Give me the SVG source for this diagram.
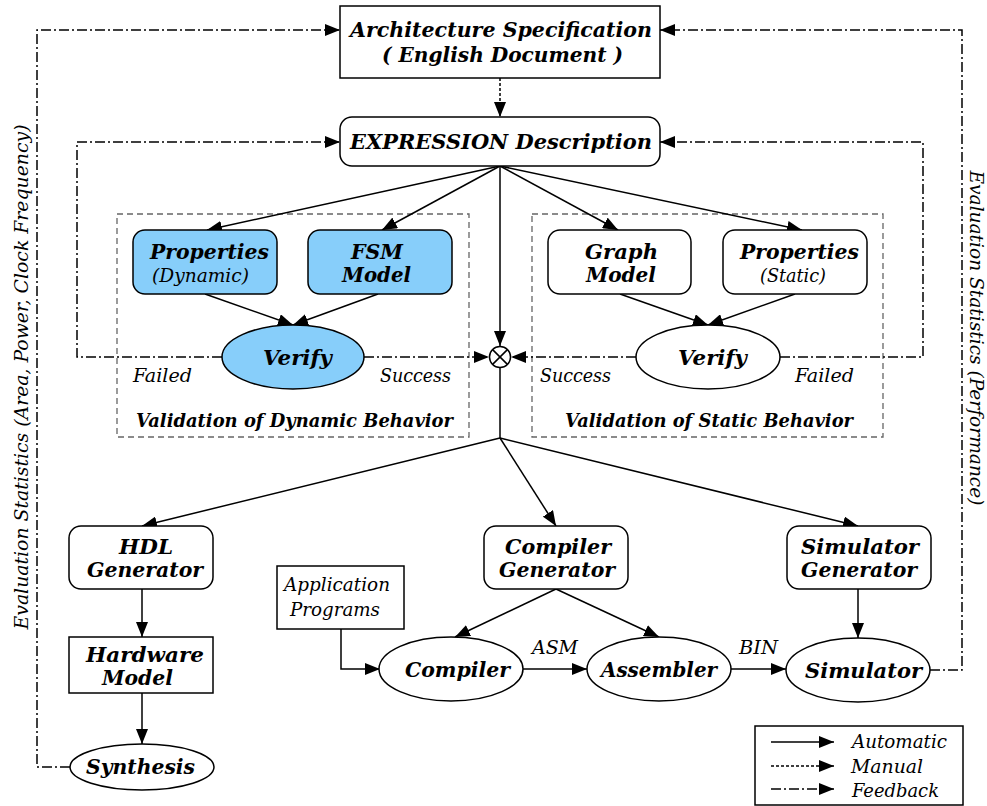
<svg xmlns="http://www.w3.org/2000/svg" width="987" height="806" viewBox="0 0 987 806">
<defs>
<marker id="ah" markerUnits="userSpaceOnUse" markerWidth="16" markerHeight="12" refX="15" refY="6" orient="auto">
<path d="M0,0 L15,6 L0,12 Z" fill="#000"/>
</marker>
<style>
.n{fill:#fff;stroke:#000;stroke-width:1.5}
.b{fill:#87cefa;stroke:#000;stroke-width:1.5}
.grp{fill:none;stroke:#666;stroke-width:1.3;stroke-dasharray:6 4}
.a{fill:none;stroke:#000;stroke-width:1.5;marker-end:url(#ah)}
.l{fill:none;stroke:#000;stroke-width:1.5}
.m{fill:none;stroke:#000;stroke-width:1.5;stroke-dasharray:3 2;marker-end:url(#ah)}
.fa{fill:none;stroke:#000;stroke-width:1.5;stroke-dasharray:10 3 2 3;marker-end:url(#ah)}
text{font-style:italic;fill:#000;text-anchor:middle}
.s{font-family:'DejaVu Serif',serif;font-weight:bold;font-size:19.5px}
.t{font-family:'DejaVu Serif',serif;font-weight:bold;font-size:20px}
.g{font-family:'DejaVu Serif',serif;font-weight:bold;font-size:18px}
.q{font-family:'DejaVu Serif Condensed','DejaVu Serif',serif;font-size:19px}
.st{text-anchor:start}
</style>
</defs>
<rect width="987" height="806" fill="#fff"/>

<g id="groups">
<rect class="grp" x="117" y="214" width="352" height="223"/>
<rect class="grp" x="532" y="214" width="351" height="223"/>
<text class="g" x="294.5" y="427" textLength="317" lengthAdjust="spacingAndGlyphs">Validation of Dynamic Behavior</text>
<text class="g" x="709" y="427" textLength="288" lengthAdjust="spacingAndGlyphs">Validation of Static Behavior</text>
</g>

<g id="connectors">
<path class="m" d="M500,78 L500,117"/>
<path class="a" d="M500,166 L207,230"/>
<path class="a" d="M500,166 L382,230"/>
<path class="a" d="M500,166 L500,346"/>
<path class="a" d="M500,166 L618,230"/>
<path class="a" d="M500,166 L802,230"/>
<path class="a" d="M205,294 L293,325"/>
<path class="a" d="M378,294 L293,325"/>
<path class="a" d="M620,294 L708,325"/>
<path class="a" d="M795,294 L708,325"/>
<path class="fa" d="M222,357 L77,357 L77,142 L340,142"/>
<path class="fa" d="M364,357 L489,357"/>
<path class="fa" d="M636,357 L511,357"/>
<path class="fa" d="M780,357 L923,357 L923,142 L660,142"/>
<path class="l" d="M500,368 L500,438"/>
<path class="a" d="M500,438 L142,526"/>
<path class="a" d="M500,438 L556,526"/>
<path class="a" d="M500,438 L858,526"/>
<path class="a" d="M142,589 L142,637"/>
<path class="a" d="M142,693 L142,744"/>
<path class="a" d="M341,629 L341,669 L380,669"/>
<path class="a" d="M556,589 L455,637"/>
<path class="a" d="M556,589 L659,637"/>
<path class="a" d="M858,589 L858,638"/>
<path class="a" d="M523,669 L587,669"/>
<path class="a" d="M731,669 L786,669"/>
<path class="fa" d="M70,767 L37,767 L37,30 L340,30"/>
<path class="fa" d="M930,670 L962,670 L962,30 L660,30"/>
<text class="q st" x="532" y="654" textLength="46" lengthAdjust="spacingAndGlyphs">ASM</text>
<text class="q st" x="739" y="654" textLength="39" lengthAdjust="spacingAndGlyphs">BIN</text>
<text class="q st" x="133" y="382" textLength="59" lengthAdjust="spacingAndGlyphs">Failed</text>
<text class="q st" x="380" y="382" textLength="71" lengthAdjust="spacingAndGlyphs">Success</text>
<text class="q st" x="540" y="382" textLength="71" lengthAdjust="spacingAndGlyphs">Success</text>
<text class="q st" x="795" y="382" textLength="59" lengthAdjust="spacingAndGlyphs">Failed</text>
</g>

<g id="arch">
<rect class="n" x="340" y="6" width="320" height="72"/>
<text class="t" x="501" y="37" textLength="302" lengthAdjust="spacingAndGlyphs">Architecture Specification</text>
<text class="t" x="502.5" y="62" textLength="241" lengthAdjust="spacingAndGlyphs">( English Document )</text>
</g>

<g id="expression">
<rect class="n" x="340" y="117" width="320" height="49" rx="12"/>
<text class="t" x="501" y="149" textLength="302" lengthAdjust="spacingAndGlyphs">EXPRESSION Description</text>
</g>

<g id="prop-dyn">
<rect class="b" x="133" y="230" width="144" height="64" rx="12"/>
<text class="s" x="209.5" y="259" textLength="119" lengthAdjust="spacingAndGlyphs">Properties</text>
<text class="q" x="200.5" y="282" textLength="97" lengthAdjust="spacingAndGlyphs">(Dynamic)</text>
</g>

<g id="fsm">
<rect class="b" x="308" y="230" width="144" height="64" rx="12"/>
<text class="s" x="377" y="259" textLength="52" lengthAdjust="spacingAndGlyphs">FSM</text>
<text class="s" x="376.5" y="282" textLength="69" lengthAdjust="spacingAndGlyphs">Model</text>
</g>

<g id="verify-dyn">
<ellipse class="b" cx="293" cy="357" rx="71" ry="32"/>
<text class="s" x="297.5" y="365" textLength="69" lengthAdjust="spacingAndGlyphs">Verify</text>
</g>

<g id="xor">
<circle cx="500" cy="357" r="10.5" fill="#fff" stroke="#000" stroke-width="1.5"/>
<path class="l" d="M492.6,349.6 L507.4,364.4 M507.4,349.6 L492.6,364.4"/>
</g>

<g id="graph">
<rect class="n" x="548" y="230" width="143" height="64" rx="12"/>
<text class="s" x="621.5" y="259" textLength="73" lengthAdjust="spacingAndGlyphs">Graph</text>
<text class="s" x="621" y="282" textLength="70" lengthAdjust="spacingAndGlyphs">Model</text>
</g>

<g id="prop-static">
<rect class="n" x="723" y="230" width="144" height="64" rx="12"/>
<text class="s" x="799.5" y="259" textLength="119" lengthAdjust="spacingAndGlyphs">Properties</text>
<text class="q" x="793" y="282" textLength="66" lengthAdjust="spacingAndGlyphs">(Static)</text>
</g>

<g id="verify-static">
<ellipse class="n" cx="708" cy="357" rx="72" ry="32"/>
<text class="s" x="712.5" y="365" textLength="69" lengthAdjust="spacingAndGlyphs">Verify</text>
</g>

<g id="hdl">
<rect class="n" x="69" y="526" width="144" height="63" rx="12"/>
<text class="s" x="146" y="554" textLength="54" lengthAdjust="spacingAndGlyphs">HDL</text>
<text class="s" x="145" y="577" textLength="116" lengthAdjust="spacingAndGlyphs">Generator</text>
</g>

<g id="hardware">
<rect class="n" x="69" y="637" width="144" height="56"/>
<text class="s" x="145" y="662" textLength="118" lengthAdjust="spacingAndGlyphs">Hardware</text>
<text class="s" x="137.5" y="685" textLength="71" lengthAdjust="spacingAndGlyphs">Model</text>
</g>

<g id="synthesis">
<ellipse class="n" cx="142" cy="767" rx="72" ry="23"/>
<text class="s" x="140.5" y="774" textLength="109" lengthAdjust="spacingAndGlyphs">Synthesis</text>
</g>

<g id="app">
<rect class="n" x="277" y="566" width="127" height="63"/>
<text class="q" x="337" y="591" textLength="106" lengthAdjust="spacingAndGlyphs">Application</text>
<text class="q" x="335" y="616" textLength="90" lengthAdjust="spacingAndGlyphs">Programs</text>
</g>

<g id="compgen">
<rect class="n" x="484" y="526" width="144" height="63" rx="12"/>
<text class="s" x="558" y="554" textLength="106" lengthAdjust="spacingAndGlyphs">Compiler</text>
<text class="s" x="557" y="577" textLength="116" lengthAdjust="spacingAndGlyphs">Generator</text>
</g>

<g id="simgen">
<rect class="n" x="787" y="526" width="144" height="63" rx="12"/>
<text class="s" x="860" y="554" textLength="118" lengthAdjust="spacingAndGlyphs">Simulator</text>
<text class="s" x="859" y="577" textLength="116" lengthAdjust="spacingAndGlyphs">Generator</text>
</g>

<g id="compiler">
<ellipse class="n" cx="451" cy="669" rx="72" ry="32"/>
<text class="s" x="457.5" y="677" textLength="105" lengthAdjust="spacingAndGlyphs">Compiler</text>
</g>

<g id="assembler">
<ellipse class="n" cx="659" cy="669" rx="72" ry="32"/>
<text class="s" x="659" y="677" textLength="116" lengthAdjust="spacingAndGlyphs">Assembler</text>
</g>

<g id="simulator">
<ellipse class="n" cx="858" cy="670" rx="72" ry="32"/>
<text class="s" x="863.5" y="678" textLength="117" lengthAdjust="spacingAndGlyphs">Simulator</text>
</g>

<g id="side-labels">
<text class="q" transform="translate(28,377) rotate(-90)" textLength="505" lengthAdjust="spacingAndGlyphs">Evaluation Statistics (Area, Power, Clock Frequency)</text>
<text class="q" transform="translate(970,338) rotate(90)" textLength="335" lengthAdjust="spacingAndGlyphs">Evaluation Statistics (Performance)</text>
</g>

<g id="legend">
<rect x="755" y="726" width="208" height="79" fill="#fff" stroke="#000" stroke-width="1.5"/>
<path class="a" d="M771,742 L834,742"/>
<path class="m" d="M771,766 L834,766"/>
<path class="fa" d="M771,789 L834,789"/>
<text class="q st" x="852" y="748" textLength="95" lengthAdjust="spacingAndGlyphs">Automatic</text>
<text class="q st" x="851" y="773" textLength="72" lengthAdjust="spacingAndGlyphs">Manual</text>
<text class="q st" x="852" y="797" textLength="87" lengthAdjust="spacingAndGlyphs">Feedback</text>
</g>
</svg>
